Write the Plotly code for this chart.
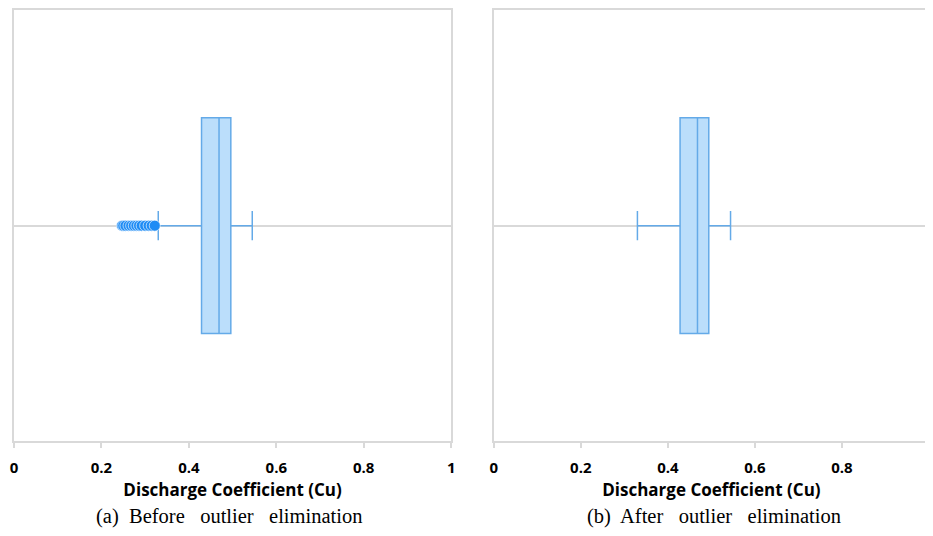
import plotly.graph_objects as go

# The page body has an 8px margin; the figure is sized/offset so the page fits the 933x536 window
# without scrollbars.
OFF_X, OFF_Y = 8, 8
FW, FH = 933 - OFF_X, 536 - 2 * OFF_Y

# ---- data ----
category = ["Cu"]
before_stats = dict(q1=0.429, median=0.469, q3=0.496, lowerfence=0.330, upperfence=0.545)
before_outliers = [0.247, 0.250, 0.255, 0.262, 0.268, 0.274, 0.280, 0.286, 0.292, 0.300, 0.308, 0.315, 0.322]
after_stats = dict(q1=0.428, median=0.468, q3=0.494, lowerfence=0.330, upperfence=0.544)
x_ticks = [0, 0.2, 0.4, 0.6, 0.8, 1]
x_ticklabels = ["0", "0.2", "0.4", "0.6", "0.8", "1"]
axis_title = "Discharge Coefficient (Cu)"
captions = ["(a)\u00a0 Before\u00a0\u00a0 outlier\u00a0\u00a0 elimination",
            "(b)\u00a0 After\u00a0\u00a0 outlier\u00a0\u00a0 elimination"]

BOX_FILL = "rgba(187,222,251,1)"
BOX_LINE = "rgb(100,170,232)"
PT_COLOR = "rgb(30,140,245)"
GRID = "rgb(217,217,217)"


def px(sx):
    return (sx - OFF_X) / FW


def py(sy):
    return (FH - (sy - OFF_Y)) / FH


fig = go.Figure()

for i, st in enumerate([before_stats, after_stats]):
    ax = "" if i == 0 else "2"
    fig.add_trace(go.Box(
        q1=[st["q1"]], median=[st["median"]], q3=[st["q3"]],
        lowerfence=[st["lowerfence"]], upperfence=[st["upperfence"]],
        y=category, orientation="h", boxpoints=False,
        width=0.5, whiskerwidth=0.135,
        fillcolor=BOX_FILL, line=dict(color=BOX_LINE, width=1.5),
        xaxis="x" + ax, yaxis="y" + ax, showlegend=False,
    ))

fig.add_trace(go.Scatter(
    x=before_outliers, y=category * len(before_outliers), mode="markers",
    marker=dict(size=11, color=PT_COLOR, line=dict(color="rgba(255,255,255,0.8)", width=0.8)),
    xaxis="x", yaxis="y", showlegend=False,
))

dom_y = [py(441), py(8)]
xdoms = [[px(10), px(451)], [px(494), 1.0]]

common_x = dict(
    range=[0, 1], tickvals=x_ticks, ticktext=x_ticklabels,
    showgrid=False, zeroline=False, showline=True, linecolor=GRID, linewidth=1.5,
    mirror=True, ticks="outside", ticklen=5, tickcolor=GRID, tickwidth=1.5,
    ticklabelstandoff=7, ticklabeloverflow="allow",
    tickfont=dict(family="Open Sans", size=15, color="black", weight="bold"),
    title=dict(text=axis_title, standoff=8,
               font=dict(family="Open Sans", size=17, color="black", weight="bold")),
)
common_y = dict(
    showticklabels=False, showgrid=True, gridcolor=GRID, gridwidth=1.5,
    zeroline=False, showline=True, linecolor=GRID, linewidth=1.5,
    ticks="", range=[-0.5, 0.5], domain=dom_y,
)

fig.update_layout(
    width=FW, height=FH, margin=dict(l=0, r=0, t=0, b=0),
    paper_bgcolor="white", plot_bgcolor="white",
    xaxis=dict(domain=xdoms[0], anchor="y", **common_x),
    xaxis2=dict(domain=xdoms[1], anchor="y2", **common_x),
    yaxis=dict(anchor="x", mirror=True, **common_y),
    # right panel continues past the window edge, so no right-hand border line
    yaxis2=dict(anchor="x2", mirror=False, **common_y),
)

cap_x = [px(227), px(716)]
for i, cap in enumerate(captions):
    fig.add_annotation(
        text=cap, x=cap_x[i], y=py(516), xref="paper", yref="paper",
        showarrow=False, xanchor="center", yanchor="middle",
        font=dict(family="Liberation Serif", size=20.5, color="black"),
    )

fig.write_html("out.html")
